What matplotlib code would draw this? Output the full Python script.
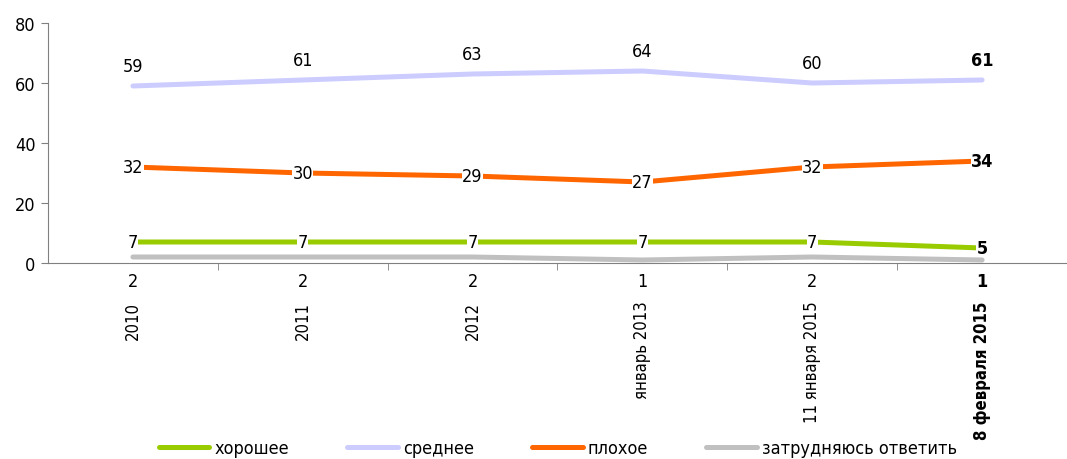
import matplotlib
matplotlib.use("Agg")
import matplotlib.pyplot as plt

plt.rcParams["font.family"] = ["DejaVu Sans"]
plt.rcParams["font.stretch"] = "condensed"

categories = ["2010", "2011", "2012", "январь 2013", "11 января 2015", "8 февраля 2015"]
good = [7, 7, 7, 7, 7, 5]
average = [59, 61, 63, 64, 60, 61]
bad = [32, 30, 29, 27, 32, 34]
hard_to_say = [2, 2, 2, 1, 2, 1]

series_names = ["хорошее", "среднее", "плохое", "затрудняюсь ответить"]
colors = ["#99cc00", "#ccccff", "#ff6600", "#c0c0c0"]


def main():
    fig = plt.figure(figsize=(10.67, 4.6), dpi=100)
    ax = fig.add_axes([48 / 1067, 196 / 460, 1 - 48 / 1067, 240 / 460])

    x = list(range(len(categories)))
    last = len(categories) - 1

    ax.plot(x, hard_to_say, color=colors[3], lw=3.6, solid_capstyle="round", zorder=2, label=series_names[3])
    ax.plot(x, good, color=colors[0], lw=3.6, solid_capstyle="round", zorder=3, label=series_names[0])
    ax.plot(x, average, color=colors[1], lw=3.6, solid_capstyle="round", zorder=3, label=series_names[1])
    ax.plot(x, bad, color=colors[2], lw=3.6, solid_capstyle="round", zorder=3, label=series_names[2])

    for i in x:
        weight = "bold" if i == last else "normal"
        # average: above the line
        ax.annotate(str(average[i]), (i, average[i]), xytext=(0, 8), textcoords="offset points",
                    ha="center", va="bottom", fontsize=13, fontweight=weight, zorder=5)
        # bad and good: on the line, white background
        for vals in (bad, good):
            ax.annotate(str(vals[i]), (i, vals[i]), ha="center", va="center",
                        fontsize=13, fontweight=weight, zorder=5,
                        bbox=dict(fc="white", ec="none", pad=0.3))
        # hard to say: under the axis
        ax.annotate(str(hard_to_say[i]), (i, 0), xytext=(0, -13), textcoords="offset points",
                    ha="center", va="center", fontsize=13, fontweight=weight,
                    annotation_clip=False)

    ax.set_xlim(-0.5, len(categories) - 0.5)
    ax.set_ylim(0, 80)
    ax.set_yticks([0, 20, 40, 60, 80])
    ax.tick_params(axis="y", labelsize=13, length=5, color="#808080", pad=4)

    ax.set_xticks(x)
    ax.set_xticklabels(categories, rotation=90, va="top", fontsize=12)
    ax.get_xticklabels()[last].set_fontweight("bold")
    ax.tick_params(axis="x", which="major", length=0, pad=27)
    ax.set_xticks([i + 0.5 for i in x[:-1]], minor=True)
    ax.tick_params(axis="x", which="minor", length=5, color="#808080")

    for side in ("top", "right"):
        ax.spines[side].set_visible(False)
    for side in ("left", "bottom"):
        ax.spines[side].set_color("#808080")

    handles, labels = ax.get_legend_handles_labels()
    order = [1, 2, 3, 0]
    fig.legend([handles[k] for k in order], [labels[k] for k in order],
               loc="center", bbox_to_anchor=(558 / 1067, 11 / 460), ncol=4,
               frameon=False, fontsize=13, handlelength=2.8, handletextpad=0.3,
               columnspacing=3.2)

    fig.savefig("out.png", dpi=100)


if __name__ == "__main__":
    main()
